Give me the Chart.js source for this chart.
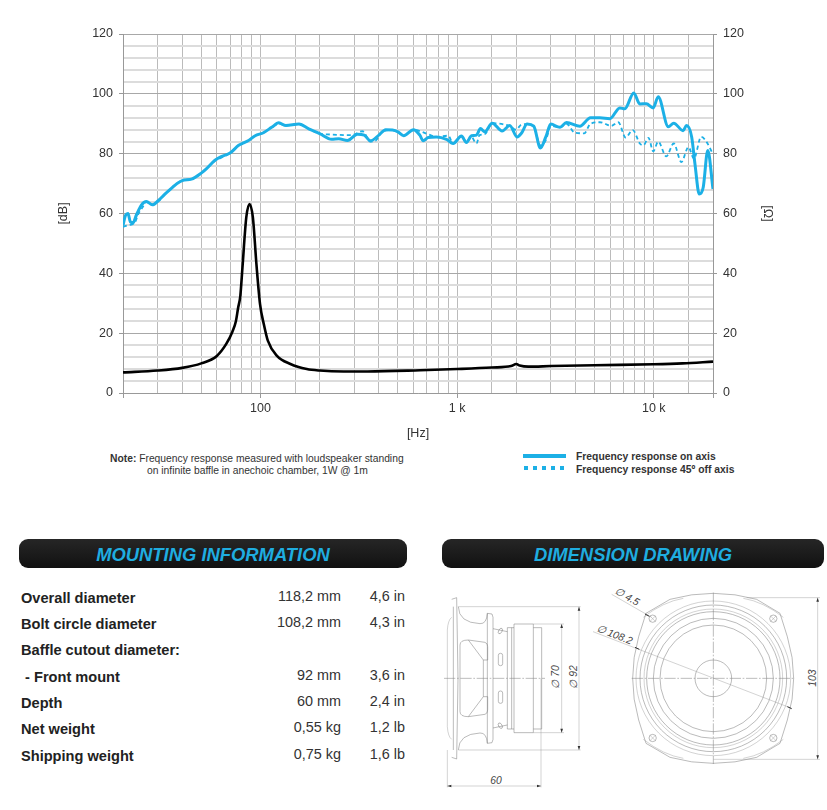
<!DOCTYPE html>
<html>
<head>
<meta charset="utf-8">
<title>Frequency response</title>
<script src="https://cdn.jsdelivr.net/npm/chart.js@4/dist/chart.umd.min.js"></script>
<style>
  html, body { margin: 0; padding: 0; background: #fff; }
  body { position: relative; width: 827px; height: 810px; overflow: hidden; font-family: "Liberation Sans", Arial, sans-serif; color: #222; }
  #myChart { position: absolute; left: 0; top: 0; }
  .abs { position: absolute; white-space: nowrap; }
  .note { font-size: 10.3px; color: #333; line-height: 12px; }
  .legend-text { font-size: 10.35px; font-weight: bold; color: #333; }
  .bar { position: absolute; top: 539px; height: 29px; border-radius: 9px; background: linear-gradient(#262626, #111); color: #1fade0; font-style: italic; font-weight: bold; font-size: 18.4px; line-height: 32px; text-align: center; }
  .row-label { font-size: 14.6px; font-weight: bold; color: #222; }
  .row-value { font-size: 14.4px; color: #333; text-align: right; }
  #drawing { position: absolute; left: 430px; top: 530px; }
  #drawing * { fill: none; stroke: #777; stroke-width: 1.5; }
  #drawing .thin { stroke: #999; stroke-width: 1.3; }
  #drawing .axis { stroke: #777; stroke-width: 1.5; stroke-dasharray: 34 5 5 5; }
  #drawing text { fill: #444; stroke: none; font-family: "Liberation Sans", Arial, sans-serif; font-style: italic; font-size: 31px; }
  #drawing .tip { fill: #333; stroke: none; }
</style>
</head>
<body>
<canvas id="myChart" width="827" height="445"></canvas>

<div class="abs note" style="left:110px;top:453px"><b>Note:</b> Frequency response measured with loudspeaker standing</div>
<div class="abs note" style="left:147px;top:465px">on infinite baffle in anechoic chamber, 1W @ 1m</div>

<div class="abs" style="left:523px;top:454px;width:43px;height:4px;background:#1cb0e6"></div>
<div class="abs" style="left:524px;top:466px;width:43px;height:4px;background:repeating-linear-gradient(90deg,#1cb0e6 0 4px,transparent 4px 9px)"></div>
<div class="abs legend-text" style="left:576px;top:451px">Frequency response on axis</div>
<div class="abs legend-text" style="left:576px;top:464px">Frequency response 45º off axis</div>

<div class="bar" style="left:19px;width:388px">MOUNTING INFORMATION</div>
<div class="bar" style="left:442px;width:382px">DIMENSION DRAWING</div>
<div id="table"></div>

<svg id="drawing" width="397" height="270" viewBox="0 0 1191 810">
  <g id="half">
    <path d="M65 208 L80 203 L84 445"/>
    <path d="M70 445 L70 230"/>
    <path d="M52 445 L52 300 Q54 270 65 262" class="thin"/>
    <path d="M85 230 Q86 278 150 281 Q170 282 172 250 L186 252 L189 262 L189 296 L232 305"/>
    <path d="M172 250 L172 445"/>
    <path d="M189 296 L189 445"/>
    <path d="M90 445 L90 345 Q90 330 115 330 L165 337 Q173 340 173 350 L173 390 L160 390 L115 330"/>
    <path d="M160 390 L160 445"/>
    <rect x="205" y="370" width="13" height="37" rx="6"/>
    <ellipse cx="211" cy="303" rx="5" ry="9" transform="rotate(30 211 303)"/>
    <path d="M232 445 L232 293 L252 293"/>
    <path d="M245 445 L245 293"/>
    <path d="M252 445 L252 282 L310 282 L310 445"/>
    <path d="M310 293 L335 293 L335 445"/>
    <path d="M85 230 L452 230" class="thin"/>
    <path d="M310 282 L402 282" class="thin"/>
  </g>
  <use href="#half" transform="matrix(1 0 0 -1 0 890)"/>
  <path d="M42 445 L345 445" class="axis"/>
  <path d="M395 282 L395 608 M447 230 L447 660 M52 660 L52 772 M333 445 L333 772 M52 768 L333 768" class="thin"/>
  <path d="M395 282 L391 294 L399 294 Z M395 608 L391 596 L399 596 Z M447 230 L443 242 L451 242 Z M447 660 L443 648 L451 648 Z M52 768 L64 764 L64 772 Z M333 768 L321 764 L321 772 Z" class="tip"/>
  <text transform="translate(388 476) rotate(-90)">∅ 70</text>
  <text transform="translate(441 476) rotate(-90)">∅ 92</text>
  <text x="181" y="762">60</text>

  <path d="M648 250 L720 208 Q850 172 980 208 L1050 250 L1072 320 Q1110 445 1072 570 L1050 640 L980 682 Q850 718 720 682 L648 640 L626 570 Q590 445 626 320 Z"/>
  <path d="M640 262 Q700 215 760 205 M1060 262 Q1000 215 940 205 M640 628 Q700 675 760 685 M1060 628 Q1000 675 940 685" class="thin"/>
  <circle cx="850" cy="445" r="55"/>
  <circle cx="850" cy="445" r="160"/>
  <circle cx="850" cy="445" r="180"/>
  <circle cx="850" cy="445" r="200"/>
  <circle cx="850" cy="445" r="208" class="thin"/>
  <circle cx="850" cy="445" r="220"/>
  <circle cx="850" cy="445" r="232" class="thin"/>
  <circle cx="668" cy="266" r="11"/><path d="M660 274 L676 258 M660 258 L676 274" class="thin"/>
  <circle cx="1030" cy="266" r="11"/><path d="M1022 274 L1038 258 M1022 258 L1038 274" class="thin"/>
  <circle cx="668" cy="624" r="11"/><path d="M660 632 L676 616 M660 616 L676 632" class="thin"/>
  <circle cx="1030" cy="624" r="11"/><path d="M1022 632 L1038 616 M1022 616 L1038 632" class="thin"/>
  <path d="M605 445 L1095 445 M850 188 L850 702" class="axis"/>
  <path d="M950 203 L1170 203 M850 688 L1170 688 M1163 203 L1163 688" class="thin"/>
  <path d="M1163 203 L1159 215 L1167 215 Z M1163 688 L1159 676 L1167 676 Z" class="tip"/>
  <path d="M489 305 L1085 535 M545 193 L665 262" class="thin"/>
  <path d="M615 352 L628 358 M1072 530 L1085 536 M645 252 L658 259" style="stroke-width:3;stroke:#333"/>
  <text transform="translate(1158 470) rotate(-90)">103</text>
  <text transform="translate(552 190) rotate(29)">∅ 4.5</text>
  <text transform="translate(497 303) rotate(21)">∅ 108.2</text>
</svg>

<script>
// values
const freqOnAxis = [20, 20.6, 21.2, 21.8, 22.5, 23.4, 24.8, 26.3, 28.2, 30.2, 33.3, 40, 44.6, 50, 53.2, 58.7, 63.5, 70, 77.5, 82, 86.5, 94, 103.5, 114, 124, 134.6, 157, 176, 200, 230, 250, 277, 311, 337, 362, 400, 433, 469, 500, 535, 600, 646, 672, 712, 785, 883, 955, 1052, 1115, 1183, 1254, 1314, 1382, 1507, 1694, 1852, 2018, 2122, 2270, 2452, 2651, 2825, 2994, 3327, 3598, 4207, 4767, 5317, 5977, 6715, 7120, 7912, 8489, 9166, 9930, 10530, 11850, 12630, 14090, 14670, 15580, 16190, 17030, 17840, 18810, 20000];
const dbOnAxis = [56, 59.4, 60, 57.2, 56.9, 59.5, 62.8, 64, 62.9, 64.3, 67, 71, 71.5, 73.5, 75, 77.8, 79.1, 80.2, 82.8, 83.6, 84.3, 86, 87, 88.8, 90.3, 89.4, 89.9, 88.3, 86.7, 84.8, 85, 84.4, 86.5, 86.2, 84.3, 86.2, 88, 87.9, 87.3, 86, 88, 86.2, 84.3, 85.4, 85.6, 84.8, 83.4, 85.9, 83.7, 86, 86.2, 88.4, 87.3, 90.2, 87.6, 89.4, 85.6, 86.8, 89.9, 89.2, 81.9, 85.6, 89.9, 88.8, 90.4, 89.2, 92, 92, 91.7, 95.3, 95, 100.3, 96.6, 96.7, 95.3, 99, 89, 90.2, 87.7, 89.4, 85.6, 76.6, 66.5, 68.8, 81.1, 68.2];

const freqOffAxis = [20, 21, 22, 23, 24, 25, 26.3, 28.2, 30.2, 33.3, 40, 44.6, 50, 53.2, 58.7, 63.5, 70, 77.5, 82, 86.5, 94, 103.5, 114, 124, 134.6, 157, 176, 200, 226, 290, 330, 362, 385, 415, 469, 500, 535, 600, 712, 785, 900, 955, 1052, 1115, 1183, 1254, 1300, 1382, 1507, 1852, 1990, 2122, 2270, 2452, 2651, 2825, 2994, 3327, 3598, 3960, 4430, 4767, 5317, 6080, 6600, 7190, 7820, 8489, 8850, 9400, 9930, 10530, 11570, 12630, 13810, 15000, 16000, 17400, 18400, 20000];
const dbOffAxis = [55.5, 56, 56.3, 57, 60, 61.8, 63.8, 63, 64, 67, 71, 71.5, 73.5, 75, 77.6, 78.7, 80.2, 82.8, 83.6, 84.3, 86, 87, 88.8, 90, 89.4, 89.9, 88.3, 86.7, 86.4, 86.2, 87.5, 84, 84.3, 87.3, 87.9, 87.3, 86, 88, 86.5, 85.6, 86, 83.4, 85.9, 84, 85.5, 83.4, 86.2, 86.5, 90.2, 89.2, 88, 89.7, 89.9, 89, 82.8, 84.5, 89.3, 88.8, 90, 87, 86.8, 90, 90.5, 89.3, 90.5, 85.4, 87.9, 83.4, 82.8, 85.3, 80.8, 84, 79.1, 83.4, 77.2, 82.2, 78.3, 85.6, 84.3, 79.8];

const freqImpedance = [20, 30, 40, 50, 60, 67, 72, 75, 77, 79, 81, 84.7, 88, 91.5, 95.4, 99.5, 104, 109, 121, 142, 172, 200, 265, 350, 650, 1000, 1500, 1880, 2000, 2080, 2300, 3000, 5000, 10000, 14000, 20000];
const ohmImpedance = [6.9, 7.5, 8.4, 9.9, 12.4, 16.4, 20.5, 24, 28.5, 32.5, 42, 58.7, 63.2, 58.7, 43, 29.7, 23, 17.5, 12.5, 9.7, 8, 7.5, 7.2, 7.2, 7.6, 8, 8.5, 9, 9.7, 9.2, 8.8, 9, 9.3, 9.6, 9.9, 10.5];

const xTickLabels = { 100: "100", 1000: "1 k", 10000: "10 k" };
const yTickLabels = [0, 20, 40, 60, 80, 100, 120];

const mountingLabels = ["Overall diameter", "Bolt circle diameter", "Baffle cutout diameter:", "\u00a0- Front mount", "Depth", "Net weight", "Shipping weight"];
const mountingMetric = ["118,2 mm", "108,2 mm", "", "92 mm", "60 mm", "0,55 kg", "0,75 kg"];
const mountingImperial = ["4,6 in", "4,3 in", "", "3,6 in", "2,4 in", "1,2 lb", "1,6 lb"];
const labelTops = [590, 616, 642, 669, 695, 721, 748];

// table under the chart
const table = document.getElementById("table");
mountingLabels.forEach((label, i) => {
  let html = '<div class="abs row-label" style="left:21px;top:' + labelTops[i] + 'px">' + label + "</div>";
  if (mountingMetric[i]) {
    html += '<div class="abs row-value" style="right:486px;top:' + (labelTops[i] - 2) + 'px">' + mountingMetric[i] + "</div>";
    html += '<div class="abs row-value" style="right:422px;top:' + (labelTops[i] - 2) + 'px">' + mountingImperial[i] + "</div>";
  }
  table.insertAdjacentHTML("beforeend", html);
});

const toPoints = (xs, ys) => xs.map((x, i) => ({ x: x, y: ys[i] }));
const blue = "#1cb0e6";
const tickFont = { family: "'Liberation Sans', Arial, sans-serif", size: 12.5 };
const isYLabel = (v) => yTickLabels.includes(v);
const xTickShown = (v) => [20, 100, 1000, 10000, 20000].includes(Math.round(v));

new Chart(document.getElementById("myChart"), {
  type: "line",
  data: {
    datasets: [
      {
        label: "Frequency response 45º off axis",
        data: toPoints(freqOffAxis, dbOffAxis),
        borderColor: blue,
        borderWidth: 1.8,
        borderDash: [4, 3],
        pointRadius: 0,
        cubicInterpolationMode: "monotone",
        yAxisID: "y",
        order: 3,
      },
      {
        label: "Frequency response on axis",
        data: toPoints(freqOnAxis, dbOnAxis),
        borderColor: blue,
        borderWidth: 3,
        pointRadius: 0,
        cubicInterpolationMode: "monotone",
        yAxisID: "y",
        order: 2,
      },
      {
        label: "Impedance",
        data: toPoints(freqImpedance, ohmImpedance),
        borderColor: "#000",
        borderWidth: 2.6,
        pointRadius: 0,
        cubicInterpolationMode: "monotone",
        yAxisID: "y2",
        order: 1,
      },
    ],
  },
  options: {
    responsive: false,
    animation: false,
    layout: { padding: { top: 34, left: 0, right: 0, bottom: 0 } },
    plugins: { legend: { display: false }, tooltip: { enabled: false } },
    scales: {
      x: {
        type: "logarithmic",
        min: 20,
        max: 20000,
        afterFit: (s) => { s.height = 52; },
        border: { color: "#999" },
        grid: {
          color: "#bbb",
          tickLength: 5,
          tickColor: (c) => (xTickShown(c.tick.value) ? "#999" : "transparent"),
        },
        ticks: {
          autoSkip: false,
          maxRotation: 0,
          padding: 3,
          color: "#333",
          font: tickFont,
          callback: (v) => xTickLabels[Math.round(v)] || "",
        },
        title: { display: true, text: "[Hz]", color: "#333", font: tickFont, padding: { top: 6 } },
      },
      y: {
        position: "left",
        min: 0,
        max: 120,
        afterFit: (s) => { s.width = 123; },
        border: { color: "#999" },
        grid: {
          color: (c) => (isYLabel(c.tick.value) ? "#a8a8a8" : "#dcdcdc"),
          lineWidth: (c) => (isYLabel(c.tick.value) ? 1 : 2),
          tickLength: 4,
          tickWidth: 1,
          tickColor: (c) => (isYLabel(c.tick.value) ? "#999" : "transparent"),
        },
        ticks: {
          stepSize: 4,
          autoSkip: false,
          padding: 6,
          color: "#333",
          font: tickFont,
          callback: (v) => (isYLabel(v) ? String(v) : ""),
        },
        title: { display: true, text: "[dB]", color: "#333", font: tickFont, padding: { top: 56 } },
      },
      y2: {
        position: "right",
        min: 0,
        max: 120,
        afterFit: (s) => { s.width = 114; },
        border: { color: "#999" },
        grid: {
          drawOnChartArea: false,
          tickLength: 4,
          tickWidth: 1,
          tickColor: (c) => (isYLabel(c.tick.value) ? "#999" : "transparent"),
        },
        ticks: {
          stepSize: 4,
          autoSkip: false,
          padding: 6,
          color: "#333",
          font: tickFont,
          callback: (v) => (isYLabel(v) ? String(v) : ""),
        },
        title: { display: true, text: "[Ω]", color: "#333", font: tickFont, padding: { top: 52 } },
      },
    },
  },
});
</script>
</body>
</html>
